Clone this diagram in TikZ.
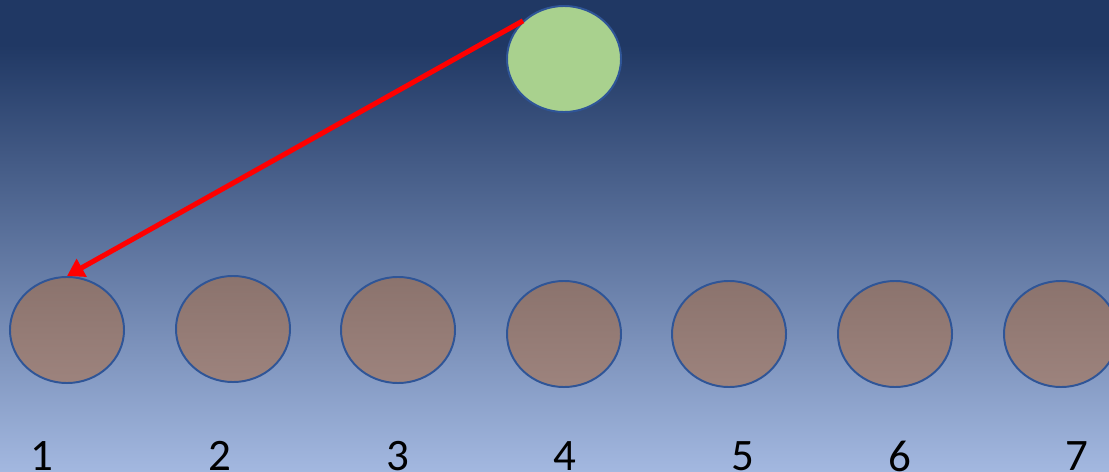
\documentclass[tikz,border=0pt]{standalone}
\usepackage{fontspec}
\setmainfont{Carlito}
\usetikzlibrary{arrows.meta,shapes.geometric}
\definecolor{bgtop}{HTML}{203864}
\definecolor{bgbot}{HTML}{A3B8E0}
\definecolor{edge}{HTML}{2F5597}
\definecolor{leaf}{HTML}{A9D18E}
\definecolor{browntop}{HTML}{8B736D}
\definecolor{brownbot}{HTML}{9D837D}
\tikzset{
  ball/.style={ellipse, draw=edge, line width=1.4pt, minimum width=2.85cm, minimum height=2.65cm, inner sep=0pt},
  slot/.style={ball, top color=browntop, bottom color=brownbot},
  num/.style={font=\fontsize{32}{36}\selectfont, text=black, inner sep=0pt, anchor=center},
  ptr/.style={draw=red, line width=3.6pt, -{Triangle[length=12pt,width=14pt]}}
}
\begin{document}
\begin{tikzpicture}[x=0.025cm,y=-0.025cm]
\useasboundingbox (0,0) rectangle (1109,472);
\fill[bgtop] (0,0) rectangle (1109,46);
\shade[top color=bgtop, bottom color=bgbot] (0,45) rectangle (1109,472);
\node[ball, fill=leaf] (g) at (564,59) {};
\node[slot] (b1) at (67,330) {};
\node[slot] (b2) at (233,329) {};
\node[slot] (b3) at (398,330) {};
\node[slot] (b4) at (564,334) {};
\node[slot] (b5) at (729,334) {};
\node[slot] (b6) at (895,334) {};
\node[slot] (b7) at (1061,334) {};
\node[num] (n1) at (42,456) {1};
\node[num] (n2) at (220,456) {2};
\node[num] (n3) at (398,456) {3};
\node[num] (n4) at (565,456) {4};
\node[num] (n5) at (743,456) {5};
\node[num] (n6) at (900,456) {6};
\node[num] (n7) at (1077,456) {7};
\draw[ptr] (g.137) -- (b1.north);
\end{tikzpicture}
\end{document}
